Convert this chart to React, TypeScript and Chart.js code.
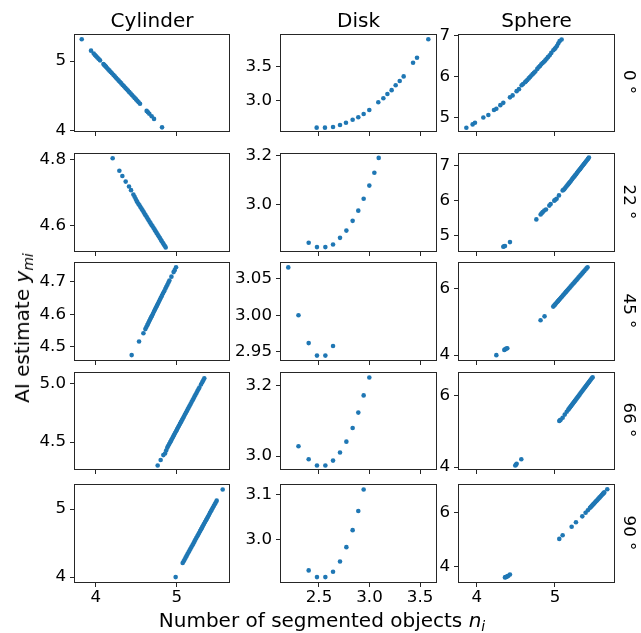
import React, { useEffect, useRef } from 'react';
import { Chart, registerables } from 'chart.js';

Chart.register(...registerables);
Chart.defaults.font.family = '"DejaVu Sans", sans-serif';

// ---------------- data ----------------
const shapes = ['Cylinder', 'Disk', 'Sphere'];
const angles = ['0', '22', '45', '66', '90'];

const cyl0 = [[3.827,5.315],[3.942,5.150],[3.975,5.108],[3.991,5.088],[4.005,5.070],[4.020,5.051],[4.035,5.032],[4.053,5.010],[4.095,4.956],[4.107,4.941],[4.118,4.927],[4.127,4.916],[4.142,4.897],[4.156,4.879],[4.170,4.861],[4.185,4.842],[4.200,4.823],[4.218,4.801],[4.235,4.779],[4.251,4.759],[4.268,4.737],[4.284,4.717],[4.300,4.697],[4.316,4.677],[4.333,4.655],[4.349,4.635],[4.366,4.613],[4.382,4.593],[4.398,4.573],[4.415,4.551],[4.432,4.530],[4.448,4.510],[4.465,4.488],[4.481,4.468],[4.498,4.446],[4.514,4.426],[4.530,4.406],[4.547,4.384],[4.629,4.280],[4.645,4.260],[4.662,4.238],[4.691,4.202],[4.720,4.165],[4.819,4.043]];
const disk0 = [[2.477,2.610],[2.559,2.610],[2.639,2.619],[2.708,2.648],[2.767,2.681],[2.833,2.724],[2.889,2.762],[2.942,2.810],[2.998,2.867],[3.087,2.981],[3.137,3.038],[3.177,3.100],[3.219,3.157],[3.259,3.229],[3.299,3.290],[3.338,3.357],[3.431,3.557],[3.470,3.629],[3.582,3.900]];
const sph0 = [[3.868,4.745],[3.948,4.825],[3.978,4.865],[4.085,4.993],[4.149,5.057],[4.221,5.177],[4.251,5.209],[4.302,5.297],[4.340,5.353],[4.425,5.488],[4.459,5.536],[4.510,5.640],[4.540,5.688],[4.574,5.784],[4.592,5.816],[4.617,5.856],[4.630,5.880],[4.646,5.912],[4.664,5.952],[4.681,5.984],[4.698,6.024],[4.715,6.056],[4.732,6.088],[4.749,6.120],[4.774,6.184],[4.791,6.224],[4.808,6.256],[4.825,6.296],[4.842,6.328],[4.859,6.360],[4.876,6.392],[4.893,6.432],[4.910,6.472],[4.932,6.520],[4.953,6.576],[4.979,6.640],[4.996,6.672],[5.008,6.703],[5.025,6.743],[5.042,6.807],[5.059,6.863],[5.085,6.903]];

const cyl22 = [[4.209,4.805],[4.292,4.767],[4.329,4.751],[4.370,4.734],[4.411,4.719],[4.436,4.708],[4.465,4.695],[4.480,4.688],[4.494,4.681],[4.506,4.675],[4.515,4.671],[4.528,4.666],[4.540,4.662],[4.552,4.657],[4.565,4.652],[4.578,4.647],[4.590,4.642],[4.602,4.637],[4.615,4.632],[4.628,4.627],[4.640,4.622],[4.652,4.617],[4.665,4.612],[4.678,4.607],[4.690,4.602],[4.702,4.598],[4.715,4.593],[4.728,4.588],[4.740,4.583],[4.752,4.578],[4.765,4.573],[4.778,4.568],[4.790,4.563],[4.803,4.558],[4.815,4.553],[4.828,4.548],[4.840,4.543],[4.852,4.539],[4.864,4.534]];
const disk22 = [[2.398,2.842],[2.480,2.824],[2.563,2.824],[2.639,2.835],[2.708,2.862],[2.771,2.892],[2.833,2.932],[2.889,2.974],[2.942,3.023],[2.998,3.077],[3.048,3.130],[3.091,3.191]];
const sph22 = [[4.340,4.679],[4.350,4.690],[4.361,4.698],[4.425,4.811],[4.762,5.462],[4.817,5.604],[4.830,5.640],[4.843,5.670],[4.864,5.717],[4.885,5.745],[4.928,5.858],[4.945,5.906],[4.991,6.000],[5.005,6.025],[5.021,6.057],[5.051,6.151],[5.098,6.292],[5.108,6.312],[5.119,6.330],[5.132,6.370],[5.145,6.405],[5.158,6.440],[5.170,6.475],[5.182,6.510],[5.195,6.545],[5.207,6.580],[5.220,6.620],[5.232,6.655],[5.245,6.690],[5.257,6.725],[5.270,6.760],[5.282,6.800],[5.295,6.835],[5.307,6.870],[5.320,6.905],[5.333,6.945],[5.345,6.980],[5.358,7.015],[5.370,7.050],[5.383,7.090],[5.395,7.125],[5.408,7.160],[5.421,7.200],[5.434,7.236]];

const cyl45 = [[4.444,4.475],[4.535,4.517],[4.589,4.542],[4.613,4.555],[4.625,4.561],[4.637,4.567],[4.648,4.573],[4.660,4.579],[4.672,4.585],[4.684,4.591],[4.695,4.596],[4.707,4.602],[4.720,4.609],[4.732,4.615],[4.744,4.621],[4.756,4.627],[4.768,4.633],[4.780,4.639],[4.792,4.645],[4.804,4.651],[4.816,4.657],[4.830,4.664],[4.845,4.671],[4.860,4.679],[4.872,4.685],[4.885,4.691],[4.898,4.698],[4.910,4.704],[4.935,4.716],[4.962,4.730],[4.975,4.736],[4.992,4.745]];
const disk45 = [[2.196,3.065],[2.297,3.000],[2.398,2.962],[2.480,2.945],[2.563,2.945],[2.639,2.958]];
const sph45 = [[4.251,4.000],[4.353,4.156],[4.365,4.175],[4.378,4.195],[4.391,4.205],[4.816,5.044],[4.867,5.161],[4.978,5.454],[4.990,5.485],[4.999,5.512],[5.012,5.547],[5.025,5.582],[5.038,5.617],[5.050,5.649],[5.062,5.681],[5.075,5.716],[5.088,5.751],[5.100,5.784],[5.112,5.816],[5.125,5.851],[5.138,5.886],[5.150,5.918],[5.162,5.950],[5.175,5.985],[5.188,6.020],[5.200,6.053],[5.212,6.085],[5.225,6.120],[5.238,6.155],[5.250,6.187],[5.262,6.219],[5.275,6.254],[5.288,6.289],[5.300,6.322],[5.312,6.354],[5.325,6.389],[5.338,6.424],[5.350,6.456],[5.362,6.488],[5.375,6.523],[5.390,6.564],[5.403,6.599],[5.416,6.634]];

const cyl66 = [[4.765,4.300],[4.802,4.347],[4.835,4.389],[4.856,4.403],[4.870,4.428],[4.884,4.453],[4.896,4.469],[4.908,4.484],[4.920,4.500],[4.932,4.515],[4.944,4.531],[4.956,4.547],[4.968,4.562],[4.980,4.578],[4.992,4.593],[5.004,4.609],[5.016,4.625],[5.028,4.640],[5.040,4.656],[5.052,4.671],[5.064,4.687],[5.076,4.703],[5.088,4.718],[5.100,4.734],[5.112,4.749],[5.124,4.765],[5.136,4.781],[5.148,4.796],[5.160,4.812],[5.172,4.827],[5.184,4.843],[5.196,4.859],[5.208,4.874],[5.220,4.890],[5.232,4.905],[5.244,4.921],[5.256,4.937],[5.268,4.952],[5.280,4.968],[5.300,4.994],[5.315,5.013],[5.328,5.030],[5.341,5.047]];
const disk66 = [[2.297,3.028],[2.398,2.991],[2.480,2.973],[2.563,2.973],[2.639,2.987],[2.708,3.010],[2.771,3.041],[2.833,3.080],[2.889,3.124],[2.942,3.173],[2.998,3.224]];
const sph66 = [[4.493,4.045],[4.502,4.065],[4.510,4.091],[4.570,4.218],[5.055,5.291],[5.063,5.310],[5.072,5.327],[5.098,5.382],[5.125,5.470],[5.150,5.550],[5.170,5.609],[5.182,5.644],[5.194,5.679],[5.206,5.714],[5.218,5.749],[5.230,5.784],[5.242,5.819],[5.254,5.854],[5.266,5.889],[5.278,5.924],[5.290,5.959],[5.302,5.994],[5.314,6.029],[5.326,6.065],[5.338,6.100],[5.350,6.135],[5.362,6.170],[5.374,6.205],[5.386,6.240],[5.398,6.275],[5.410,6.310],[5.422,6.345],[5.434,6.380],[5.446,6.415],[5.458,6.450],[5.470,6.485],[5.481,6.518]];

const cyl90 = [[4.987,4.000],[5.074,4.207],[5.086,4.233],[5.098,4.259],[5.110,4.286],[5.122,4.312],[5.134,4.338],[5.146,4.364],[5.158,4.390],[5.170,4.417],[5.182,4.443],[5.194,4.469],[5.206,4.495],[5.218,4.521],[5.230,4.548],[5.242,4.574],[5.254,4.600],[5.266,4.626],[5.278,4.652],[5.290,4.679],[5.302,4.705],[5.314,4.731],[5.326,4.757],[5.338,4.783],[5.350,4.810],[5.362,4.836],[5.374,4.862],[5.386,4.888],[5.398,4.914],[5.410,4.941],[5.422,4.967],[5.434,4.993],[5.446,5.019],[5.458,5.045],[5.470,5.071],[5.482,5.097],[5.494,5.124],[5.568,5.288]];
const disk90 = [[2.398,2.931],[2.480,2.916],[2.563,2.916],[2.639,2.928],[2.708,2.951],[2.771,2.983],[2.833,3.021],[2.889,3.064],[2.942,3.112]];
const sph90 = [[4.361,3.600],[4.372,3.612],[4.383,3.624],[4.394,3.643],[4.404,3.661],[4.425,3.709],[5.055,5.030],[5.098,5.164],[5.213,5.479],[5.268,5.648],[5.349,5.867],[5.391,6.000],[5.420,6.095],[5.447,6.182],[5.458,6.216],[5.469,6.251],[5.480,6.285],[5.491,6.320],[5.502,6.354],[5.513,6.389],[5.524,6.423],[5.535,6.457],[5.546,6.492],[5.557,6.526],[5.568,6.561],[5.579,6.595],[5.590,6.630],[5.601,6.664],[5.612,6.699],[5.621,6.727],[5.630,6.755],[5.668,6.873]];

const panelData = [
  [cyl0, disk0, sph0],
  [cyl22, disk22, sph22],
  [cyl45, disk45, sph45],
  [cyl66, disk66, sph66],
  [cyl90, disk90, sph90],
];

// x axes (shared per column)
const xRanges = [[3.744, 5.646], [2.124, 3.658], [3.774, 5.754]];
const xTickValues = [[4, 5], [2.5, 3.0, 3.5], [4, 5]];
const xTickLabels = [['4', '5'], ['2.5', '3.0', '3.5'], ['4', '5']];

// y axes per panel [row][col]
const yRanges = [
  [[3.99, 5.376], [2.561, 3.961], [4.664, 7.014]],
  [[4.523, 4.818], [2.808, 3.207], [4.555, 7.34]],
  [[4.46, 4.758], [2.939, 3.071], [3.854, 6.76]],
  [[4.27, 5.092], [2.963, 3.237], [3.946, 6.635]],
  [[3.928, 5.354], [2.905, 3.122], [3.43, 7.03]],
];
const yTickValues = [
  [[4, 5], [3.0, 3.5], [5, 6, 7]],
  [[4.6, 4.8], [3.0, 3.2], [5, 6, 7]],
  [[4.5, 4.6, 4.7], [2.95, 3.0, 3.05], [4, 6]],
  [[4.5, 5.0], [3.0, 3.2], [4, 6]],
  [[4, 5], [3.0, 3.1], [4, 6]],
];
const yTickLabels = [
  [['4', '5'], ['3.0', '3.5'], ['5', '6', '7']],
  [['4.6', '4.8'], ['3.0', '3.2'], ['5', '6', '7']],
  [['4.5', '4.6', '4.7'], ['2.95', '3.00', '3.05'], ['4', '6']],
  [['4.5', '5.0'], ['3.0', '3.2'], ['4', '6']],
  [['4', '5'], ['3.0', '3.1'], ['4', '6']],
];

// ---------------- layout ----------------
const COL_LEFT = [75, 281, 459];
const COL_W = [154, 155, 155];
const ROW_TOP = [33, 152, 261, 371, 483];
const ROW_H = [98, 99, 99, 98, 99];
const Y_AXIS_W = 60;
const PAD_T = 12;
const PAD_R = 20;
const X_AXIS_H = 30;
const TICK_FONT = 16.67;
const BLUE = '#1f77b4';
const INK = '#000000';
const SPINE = '#262626';

const framePlugin = {
  id: 'frame',
  afterDatasetsDraw(chart: any) {
    const { ctx, chartArea: a } = chart;
    ctx.save();
    ctx.strokeStyle = SPINE;
    ctx.lineWidth = 1;
    ctx.strokeRect(a.left - 0.5, a.top - 0.5, a.right - a.left + 1, a.bottom - a.top + 1);
    ctx.restore();
  },
};

function Panel({ row, col }: { row: number; col: number }) {
  const ref = useRef<HTMLCanvasElement>(null);
  const w = Y_AXIS_W + COL_W[col] + PAD_R;
  const h = PAD_T + ROW_H[row] + X_AXIS_H;
  useEffect(() => {
    const pts = panelData[row][col].map((p) => ({ x: p[0], y: p[1] }));
    const showX = row === angles.length - 1;
    const xt = xTickValues[col];
    const xl = xTickLabels[col];
    const yt = yTickValues[row][col];
    const yl = yTickLabels[row][col];
    const grid = {
      display: true,
      drawOnChartArea: false,
      drawTicks: true,
      tickLength: 5,
      tickWidth: 1,
      tickColor: SPINE,
      color: SPINE,
    };
    const chart = new Chart(ref.current as HTMLCanvasElement, {
      type: 'scatter',
      data: {
        datasets: [
          {
            data: pts,
            backgroundColor: BLUE,
            borderColor: BLUE,
            borderWidth: 0,
            pointRadius: 2.3,
            pointHoverRadius: 2.3,
          },
        ],
      },
      options: {
        animation: false,
        responsive: false,
        events: [],
        layout: { padding: { left: 0, top: PAD_T, right: PAD_R, bottom: 0 } },
        plugins: { legend: { display: false }, tooltip: { enabled: false } },
        scales: {
          x: {
            type: 'linear',
            min: xRanges[col][0],
            max: xRanges[col][1],
            bounds: 'data',
            grid,
            border: { display: false },
            ticks: {
              display: showX,
              autoSkip: false,
              maxRotation: 0,
              padding: 1,
              color: INK,
              font: { size: TICK_FONT },
              callback: (_v: any, i: number) => xl[i],
            },
            afterBuildTicks: (s: any) => {
              s.ticks = xt.map((v) => ({ value: v }));
            },
            afterFit: (s: any) => {
              s.height = X_AXIS_H;
            },
          },
          y: {
            type: 'linear',
            min: yRanges[row][col][0],
            max: yRanges[row][col][1],
            bounds: 'data',
            grid,
            border: { display: false },
            ticks: {
              autoSkip: false,
              padding: 4,
              color: INK,
              font: { size: TICK_FONT },
              callback: (_v: any, i: number) => yl[i],
            },
            afterBuildTicks: (s: any) => {
              s.ticks = yt.map((v) => ({ value: v }));
            },
            afterFit: (s: any) => {
              s.width = Y_AXIS_W;
            },
          },
        },
      } as any,
      plugins: [framePlugin],
    });
    return () => chart.destroy();
  }, [row, col]);
  return (
    <canvas
      ref={ref}
      width={w}
      height={h}
      style={{
        position: 'absolute',
        left: COL_LEFT[col] - Y_AXIS_W,
        top: ROW_TOP[row] - PAD_T,
        width: w,
        height: h,
      }}
    />
  );
}

const textBase: React.CSSProperties = {
  position: 'absolute',
  fontFamily: '"DejaVu Sans", sans-serif',
  color: '#000',
  whiteSpace: 'nowrap',
};

export default function App() {
  const panels = [];
  for (let r = 0; r < angles.length; r++) {
    for (let c = 0; c < shapes.length; c++) {
      panels.push(<Panel key={`${r}-${c}`} row={r} col={c} />);
    }
  }
  return (
    <div style={{ position: 'absolute', left: 0, top: 0, width: 641, height: 633, background: '#fff' }}>
      {panels}
      {shapes.map((s, c) => (
        <div
          key={s}
          style={{
            ...textBase,
            left: COL_LEFT[c],
            width: COL_W[c],
            top: 7.8,
            textAlign: 'center',
            fontSize: 20,
            lineHeight: '24px',
          }}
        >
          {s}
        </div>
      ))}
      {angles.map((a, r) => (
        <div
          key={a}
          style={{
            ...textBase,
            left: 628.8,
            top: ROW_TOP[r] + ROW_H[r] / 2,
            fontSize: TICK_FONT,
            lineHeight: '20px',
            transform: 'translate(-50%, -50%) rotate(90deg)',
          }}
        >
          {a} °
        </div>
      ))}
      <div
        style={{
          ...textBase,
          left: 22,
          top: 328,
          fontSize: 20,
          lineHeight: '24px',
          transform: 'translate(-50%, -50%) rotate(-90deg)',
        }}
      >
        AI estimate <i>y</i>
        <sub style={{ fontSize: '0.7em', fontStyle: 'italic', lineHeight: 0, verticalAlign: '-0.25em' }}>mi</sub>
      </div>
      <div
        style={{
          ...textBase,
          left: 322,
          top: 620,
          fontSize: 20,
          lineHeight: '24px',
          transform: 'translate(-50%, -50%)',
        }}
      >
        Number of segmented objects <i>n</i>
        <sub style={{ fontSize: '0.7em', fontStyle: 'italic', lineHeight: 0, verticalAlign: '-0.25em' }}>i</sub>
      </div>
    </div>
  );
}
